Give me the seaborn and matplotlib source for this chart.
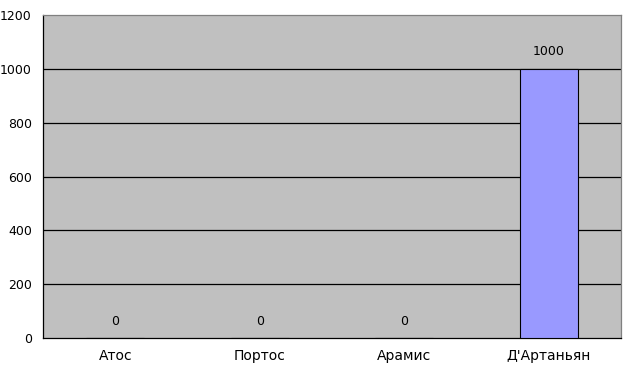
import matplotlib
matplotlib.use("Agg")
import matplotlib.pyplot as plt
import seaborn as sns
import pandas as pd
import numpy as np
from matplotlib.ticker import FixedLocator

categories = ["Атос", "Портос", "Арамис", "Д'Артаньян"]
values = [0, 0, 0, 1000]
yticks = [0, 200, 400, 600, 800, 1000, 1200]

sns.set_style("white")
plt.rcParams['font.family'] = ['DejaVu Sans']
plt.rcParams['font.size'] = 9

df = pd.DataFrame({"name": categories, "value": values})

fig = plt.figure(figsize=(6.29, 3.68), dpi=100)
ax = fig.add_axes([43/629, 1 - 338/368, (621-43)/629, (338-15)/368])
ax.set_facecolor('#C0C0C0')
sns.barplot(data=df, x="name", y="value", color='#9999FF', saturation=1,
            edgecolor='black', linewidth=0.8, width=0.4, ax=ax, zorder=3)

ax.set_ylim(0, 1200)
ax.set_xlim(-0.5, len(categories) - 0.5)
ax.set_yticks(yticks)
ax.set_yticklabels([str(t) for t in yticks])
for t in yticks[1:-1]:
    ax.axhline(t, color='black', linewidth=0.9, zorder=1)

ax.set_xlabel("")
ax.set_ylabel("")
ax.tick_params(axis='x', which='major', length=0, pad=8, labelsize=10)
ax.xaxis.set_minor_locator(FixedLocator(np.arange(-0.5, len(categories), 1.0)))
ax.tick_params(axis='x', which='minor', length=4, width=0.8, color='black', direction='out')
ax.tick_params(axis='y', length=4, width=0.8, color='black', direction='out', pad=4, labelsize=9)
ax.tick_params(axis='both', labelcolor='black')

for side in ['left', 'bottom']:
    ax.spines[side].set_color('black')
    ax.spines[side].set_linewidth(0.9)
for side in ['top', 'right']:
    ax.spines[side].set_color('#808080')
    ax.spines[side].set_linewidth(0.9)

for i, v in enumerate(values):
    ax.annotate(str(v), (i, v), xytext=(0, 7.5), textcoords='offset points',
                ha='center', va='bottom', fontsize=9, color='black', zorder=4)

fig.savefig("out.png", dpi=100, facecolor='white')
